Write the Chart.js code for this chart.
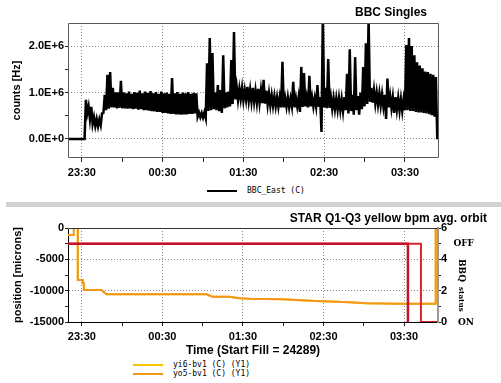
<!DOCTYPE html>
<html>
<head>
<meta charset="utf-8">
<script src="https://cdn.jsdelivr.net/npm/chart.js@4.4.1/dist/chart.umd.min.js"></script>
<style>
  html, body { margin: 0; padding: 0; background: #fff; }
  #page { position: relative; width: 501px; height: 383px; overflow: hidden; background: #fff;
          font-family: "Liberation Sans", Arial, sans-serif; }
  canvas { position: absolute; left: 0; }
  .ttl { position: absolute; font-weight: bold; font-size: 12px; line-height: 14px; white-space: nowrap; color: #000; }
  .lg { position: absolute; font-family: "DejaVu Sans Mono", "Liberation Mono", monospace; font-size: 8px;
        line-height: 9px; white-space: nowrap; color: #000; }
  .lg .row { display: flex; align-items: center; height: 9px; }
  .lg .sw { display: inline-block; width: 30px; height: 2px; margin-right: 10px; }
  #sep { position: absolute; left: 6px; top: 202px; width: 495px; height: 5px; background: #d2d2d2; }
  #bbqTitle { position: absolute; left: 457px; top: 259px; writing-mode: vertical-rl; line-height: 10px;
              font-family: "DejaVu Serif Condensed", "DejaVu Serif", serif; font-weight: bold; white-space: nowrap; }
  #bbqTitle .big { font-size: 10px; }
  #bbqTitle .small { font-size: 8px; }
</style>
</head>
<body>
<div id="page">
  <canvas id="bbc" width="501" height="178" style="top:0"></canvas>
  <div class="ttl" style="right:74px; top:5px">BBC Singles</div>
  <div id="bbcLegend" class="lg" style="left:207px; top:186px"></div>
  <div id="sep"></div>
  <canvas id="orbit" width="501" height="151" style="top:207px"></canvas>
  <div class="ttl" style="right:14px; top:211px">STAR Q1-Q3 yellow bpm avg. orbit</div>
  <div id="bbqTitle"><span class="big">BBQ</span> <span class="small">status</span></div>
  <div id="orbitLegend" class="lg" style="left:133px; top:360px"></div>
</div>
<script>
// All times are minutes after 23:00 of the fill start.
const timeMin = 19.7;
const timeMax = 295.3;
const clockTicks = [30, 60, 90, 120, 150, 180, 210, 240, 270];   // every half hour
const labelledClockTicks = [30, 90, 150, 210, 270];             // 23:30 ... 03:30

// BBC East singles rate, one low/high excursion pair per 2-minute slot [1E+6 Hz]
const bbcStartMin = 20;
const bbcStepMin = 2;
const bbcEastLow = [
  0, 0, 0, 0, 0, 0, 0, 0.55, 0.42, 0.32,
  0.28, 0.27, 0.30, 0.56, 0.62, 0.65, 0.68, 0.68, 0.66, 0.67,
  0.66, 0.66, 0.65, 0.66, 0.64, 0.65, 0.63, 0.64, 0.62, 0.62,
  0.61, 0.60, 0.59, 0.58, 0.58, 0.56, 0.56, 0.55, 0.54, 0.54,
  0.53, 0.53, 0.52, 0.53, 0.53, 0.54, 0.54, 0.55, 0.48, 0.47,
  0.46, 0.45, 0.60, 0.62, 0.64, 0.62, 0.60, 0.56, 0.66, 0.68,
  0.70, 0.75, 0.85, 0.84, 0.86, 0.83, 0.84, 0.82, 0.80, 0.80,
  0.78, 0.78, 0.77, 0.76, 0.74, 0.72, 0.71, 0.70, 0.69, 0.68,
  0.68, 0.69, 0.68, 0.70, 0.68, 0.70, 0.58, 0.69, 0.70, 0.68,
  0.70, 0.69, 0.70, 0.69, 0.15, 0.68, 0.66, 0.67, 0.65, 0.64,
  0.63, 0.62, 0.60, 0.62, 0.55, 0.60, 0.52, 0.62, 0.52, 0.64,
  0.70, 0.75, 0.80, 0.78, 0.76, 0.74, 0.72, 0.70, 0.43, 0.68,
  0.66, 0.56, 0.63, 0.61, 0.60, 0.62, 0.62, 0.60, 0.60, 0.58,
  0.57, 0.57, 0.56, 0.55, 0.53, 0.51, 0.48, 0.02
];
const bbcEastHigh = [
  0, 0, 0, 0, 0, 0, 0.84, 0.70, 0.69, 0.47,
  0.43, 0.42, 0.55, 0.95, 1.38, 1.44, 1.10, 1.00, 1.00, 1.25,
  1.00, 0.98, 1.02, 0.97, 1.01, 0.99, 1.04, 0.98, 1.02, 0.99,
  1.03, 0.98, 1.01, 0.97, 1.02, 0.98, 1.00, 0.97, 1.31, 0.98,
  1.01, 0.97, 1.00, 0.98, 1.01, 0.97, 0.99, 0.98, 0.57, 0.56,
  0.57, 1.63, 2.17, 1.85, 1.00, 1.16, 1.05, 1.80, 1.00, 1.02,
  1.70, 2.30, 1.12, 1.08, 1.10, 1.05, 1.12, 1.06, 1.10, 1.04,
  1.08, 1.05, 1.27, 1.04, 0.98, 0.94, 0.92, 0.90, 0.90, 1.66,
  0.88, 0.90, 0.87, 1.23, 0.88, 0.90, 1.55, 1.42, 0.90, 1.36,
  0.90, 0.88, 1.16, 0.90, 2.60, 1.10, 1.72, 0.90, 0.88, 0.87,
  0.88, 0.86, 0.90, 1.40, 1.93, 0.95, 1.76, 0.92, 1.00, 1.55,
  2.06, 2.60, 1.10, 1.05, 1.00, 0.98, 0.96, 0.95, 1.30, 0.92,
  0.90, 0.90, 0.88, 0.86, 0.85, 2.02, 2.17, 2.00, 1.80, 1.65,
  1.58, 1.52, 1.45, 1.44, 1.40, 1.38, 1.33, 0.02
];
const bbcTicks = [0, 0.5, 1, 1.5, 2];

// Yellow ring BPM positions [microns]
const yi6Min = [19.7, 27.0, 27.0, 30.7, 30.7, 31.5, 31.5, 44.6, 48.4, 122.9, 127.3, 140.0, 147.4, 154.8,
                179.3, 204.6, 229.1, 241.7, 266.2, 293.6, 293.6];
const yi6Pos = [0, 0, -8300, -8300, -8800, -8800, -9900, -9900, -10580, -10580, -10960, -10960, -11220, -11300,
                -11380, -11650, -11860, -12020, -12070, -12070, 0];
const yo5Min = [19.7, 24.0, 24.0, 27.0, 27.0, 30.7, 30.7, 31.5, 31.5, 44.6, 48.4, 122.9, 127.3, 140.0, 147.4, 154.8,
                179.3, 204.6, 229.1, 241.7, 266.2, 293.6, 293.6];
const yo5Pos = [-1100, -1100, 0, 0, -8300, -8300, -8800, -8800, -9900, -9900, -10580, -10580, -10960, -10960, -11220,
                -11300, -11380, -11650, -11860, -12020, -12070, -12070, 0];
const positionTicks = [-15000, -12500, -10000, -7500, -5000, -2500, 0];

// BBQ status (5 = OFF, 0 = ON)
const bbqHMin = [19.7, 272.9, 272.9];
const bbqHVal = [5, 5, 0];
const bbqVMin = [19.7, 282.6, 282.6, 295.3];
const bbqVVal = [5, 5, 0, 0];
const statusTicks = [0, 1, 2, 3, 4, 5, 6];

Chart.defaults.color = '#000';
Chart.defaults.font.family = '"Liberation Sans", Arial, sans-serif';

const tickFont = { family: '"Liberation Sans", Arial, sans-serif', size: 11, weight: 'bold' };

function clock(min) {
  const h = (23 + Math.floor(min / 60)) % 24;
  const m = min % 60;
  return String(h).padStart(2, '0') + ':' + String(m).padStart(2, '0');
}
function pairs(xs, ys) { return xs.map((x, i) => ({ x: x, y: ys[i] })); }
function fixedTicks(values) { return scale => { scale.ticks = values.map(v => ({ value: v })); }; }

function timeAxis(extra) {
  return Object.assign({
    type: 'linear', min: timeMin, max: timeMax,
    afterBuildTicks: fixedTicks(clockTicks),
    ticks: { font: tickFont, padding: 4, maxRotation: 0, autoSkip: false,
             callback: v => labelledClockTicks.includes(v) ? clock(v) : '' },
    grid: { color: c => (c.tick && labelledClockTicks.includes(c.tick.value)) ? '#8a8a8a' : 'rgba(0,0,0,0)',
            tickColor: '#222', tickLength: 4, lineWidth: 1 },
    border: { display: false, dash: [1, 2] }
  }, extra || {});
}

// Draws chosen sides of the plot frame
const framePlugin = {
  id: 'frame',
  afterDatasetsDraw(chart, args, opts) {
    const { ctx, chartArea: a } = chart;
    const l = Math.round(a.left) + 0.5, r = Math.round(a.right) - 0.5;
    const t = Math.round(a.top) + 0.5, b = Math.round(a.bottom) - 0.5;
    ctx.save();
    ctx.strokeStyle = opts.color || '#555';
    ctx.lineWidth = 1;
    ctx.beginPath();
    const sides = opts.sides || ['top', 'right', 'bottom', 'left'];
    if (sides.includes('top')) { ctx.moveTo(l, t); ctx.lineTo(r, t); }
    if (sides.includes('right')) { ctx.moveTo(r, t); ctx.lineTo(r, b); }
    if (sides.includes('bottom')) { ctx.moveTo(l, b); ctx.lineTo(r, b); }
    if (sides.includes('left')) { ctx.moveTo(l, t); ctx.lineTo(l, b); }
    ctx.stroke();
    ctx.restore();
  }
};

// ---------- BBC singles ----------
const bbcPoints = [];
bbcEastLow.forEach((lo, i) => {
  const t = bbcStartMin + i * bbcStepMin;
  bbcPoints.push({ x: t, y: lo });
  bbcPoints.push({ x: t + bbcStepMin / 2, y: bbcEastHigh[i] });
});

const bbcChart = new Chart(document.getElementById('bbc'), {
  type: 'line',
  data: { datasets: [{ label: 'BBC_East (C)', data: bbcPoints, borderColor: '#000', backgroundColor: '#000',
                       borderWidth: 2.5, pointRadius: 0, tension: 0 }] },
  options: {
    responsive: false, animation: false, devicePixelRatio: 1,
    layout: { padding: { top: 23, right: 62, left: 0, bottom: 0 } },
    plugins: { legend: { display: false }, tooltip: { enabled: false }, frame: { color: '#5a5a5a' } },
    scales: {
      x: timeAxis({ afterFit: s => { s.height = 20; } }),
      y: {
        min: -0.41, max: 2.495,
        afterBuildTicks: fixedTicks(bbcTicks),
        afterFit: s => { s.width = 68; },
        ticks: { font: tickFont, padding: 1, autoSkip: false,
                 callback: v => Number.isInteger(v) ? (v === 0 ? '0.0E+0' : v.toFixed(1) + 'E+6') : '' },
        grid: { color: c => (c.tick && Number.isInteger(c.tick.value)) ? '#8a8a8a' : 'rgba(0,0,0,0)',
                tickColor: '#222', tickLength: 3 },
        border: { display: false, dash: [1, 2] },
        title: { display: true, text: 'counts [Hz]', font: { size: 11, weight: 'bold' }, padding: { top: 10, bottom: 0 } }
      }
    }
  },
  plugins: [framePlugin]
});

// ---------- STAR Q1-Q3 yellow orbit ----------
const orbitChart = new Chart(document.getElementById('orbit'), {
  type: 'line',
  data: {
    datasets: [
      { label: 'yi6-bv1 (C) (Y1)', data: pairs(yi6Min, yi6Pos), yAxisID: 'y', order: 4,
        borderColor: '#f6c500', backgroundColor: '#f6c500', borderWidth: 2, pointRadius: 0, tension: 0 },
      { label: 'yo5-bv1 (C) (Y1)', data: pairs(yo5Min, yo5Pos), yAxisID: 'y', order: 3,
        borderColor: '#f3961c', backgroundColor: '#f3961c', borderWidth: 2, pointRadius: 0, tension: 0 },
      { label: 'BBQ horizontal', data: pairs(bbqVMin, bbqVVal), yAxisID: 'y2', order: 2,
        borderColor: '#d8262c', backgroundColor: '#d8262c', borderWidth: 2, pointRadius: 0, tension: 0 },
      { label: 'BBQ vertical', data: pairs(bbqHMin, bbqHVal), yAxisID: 'y2', order: 1,
        borderColor: '#c4142a', backgroundColor: '#c4142a', borderWidth: 2.5, pointRadius: 0, tension: 0 }
    ]
  },
  options: {
    responsive: false, animation: false, devicePixelRatio: 1,
    layout: { padding: { top: 21, right: 27, left: 0, bottom: 0 } },
    plugins: { legend: { display: false }, tooltip: { enabled: false }, frame: { color: '#333', sides: ['top'] } },
    scales: {
      x: timeAxis({
        afterFit: s => { s.height = 36; },
        border: { display: true, color: '#000', width: 1, dash: [1, 2] },
        title: { display: true, text: 'Time (Start Fill = 24289)', font: { size: 12, weight: 'bold' },
                 padding: { top: 0, bottom: 0 } }
      }),
      y: {
        position: 'left', min: -15000, max: 0,
        afterBuildTicks: fixedTicks(positionTicks),
        afterFit: s => { s.width = 68; },
        ticks: { font: tickFont, padding: 1, autoSkip: false,
                 callback: v => (v % 5000 === 0) ? String(v) : '' },
        grid: { color: c => (c.tick && c.tick.value % 5000 === 0) ? '#8a8a8a' : 'rgba(0,0,0,0)',
                tickColor: '#222', tickLength: 3 },
        border: { display: true, color: '#000', width: 1, dash: [1, 2] },
        title: { display: true, text: 'position [microns]', font: { size: 11, weight: 'bold' },
                 padding: { top: 11, bottom: 0 } }
      },
      y2: {
        position: 'right', weight: 0, min: 0, max: 6,
        afterBuildTicks: fixedTicks(statusTicks),
        afterFit: s => { s.width = 12; },
        ticks: { font: tickFont, padding: 0, autoSkip: false,
                 callback: v => (v % 2 === 0) ? String(v) : '' },
        grid: { drawOnChartArea: false, tickColor: '#222', tickLength: 3 },
        border: { display: true, color: '#9a9a9a', width: 2 }
      },
      y3: {
        position: 'right', weight: 1, min: 0, max: 6,
        afterBuildTicks: fixedTicks([0, 5]),
        afterFit: s => { s.width = 24; },
        ticks: { font: { family: '"DejaVu Serif Condensed", "DejaVu Serif", serif', size: 10, weight: 'bold' },
                 crossAlign: 'far', padding: 0, autoSkip: false,
                 callback: v => v === 5 ? 'OFF' : (v === 0 ? 'ON' : '') },
        grid: { display: false },
        border: { display: false }
      }
    }
  },
  plugins: [framePlugin]
});

// HTML legends built from the charts' own datasets
function buildLegend(chart, el, filter) {
  chart.data.datasets.forEach((ds, i) => {
    if (filter && !filter(ds, i)) return;
    const row = document.createElement('div');
    row.className = 'row';
    const sw = document.createElement('span');
    sw.className = 'sw';
    sw.style.background = ds.borderColor;
    const tx = document.createElement('span');
    tx.textContent = ds.label;
    row.appendChild(sw);
    row.appendChild(tx);
    el.appendChild(row);
  });
}
buildLegend(bbcChart, document.getElementById('bbcLegend'));
buildLegend(orbitChart, document.getElementById('orbitLegend'), ds => ds.yAxisID === 'y');
</script>
</body>
</html>
